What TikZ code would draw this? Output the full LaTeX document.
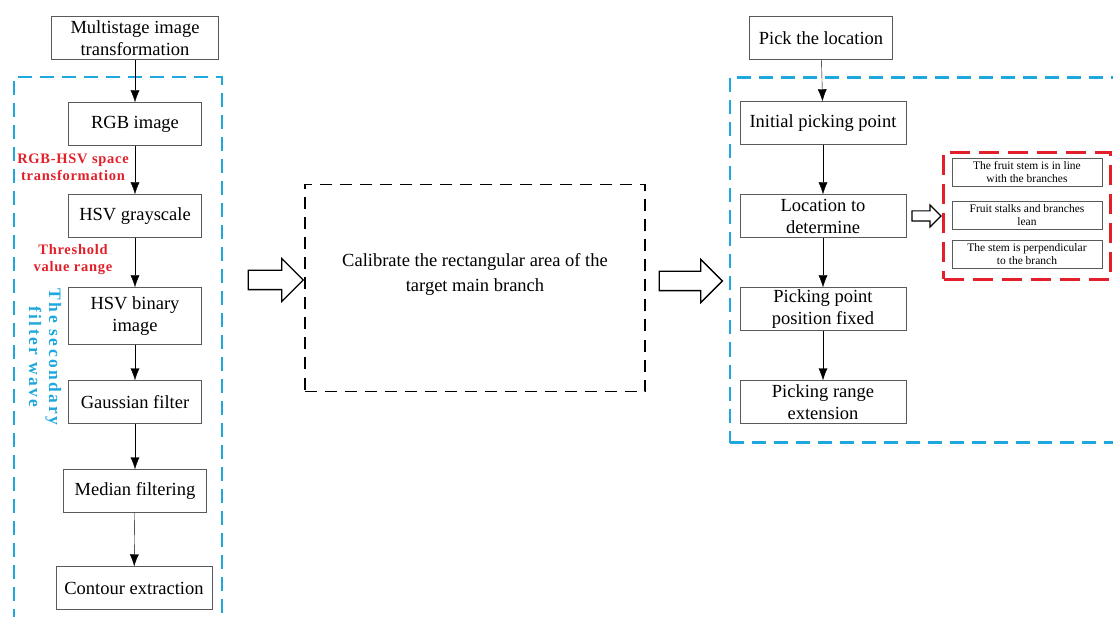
\documentclass[tikz,border=0pt]{standalone}
\usepackage{fontspec}
\setmainfont{Liberation Serif}
\usetikzlibrary{positioning,shapes.arrows,arrows.meta}
\definecolor{frameBlue}{HTML}{1FA8DE}
\definecolor{frameRed}{HTML}{E3202A}

\begin{document}
\begin{tikzpicture}[x=1pt, y=-1pt, >={Latex[length=12pt,width=9pt]},
                    every node/.style={align=center},
                    procbox/.style={draw=black!65, fill=white, inner sep=1pt,
                                    minimum height=43pt, font=\fontsize{18.5}{22}\selectfont},
                    smallbox/.style={draw=black!65, fill=white, inner sep=0pt,
                                     minimum width=150pt, minimum height=28pt,
                                     font=\fontsize{11.5}{12.5}\selectfont},
                    redlabel/.style={text=frameRed, font=\bfseries\fontsize{14.5}{17}\selectfont\addfontfeature{LetterSpace=5}},
                    blueframe/.style={draw=frameBlue, line width=2.2pt, dash pattern=on 14pt off 8pt},
                    redframe/.style={draw=frameRed, line width=2.6pt, dash pattern=on 20pt off 9pt},
                    hollow/.style={single arrow, draw=black, line width=1.3pt, fill=white,
                                   inner xsep=0pt, inner ysep=9pt,
                                   single arrow head extend=12pt}]
  \useasboundingbox (0,0) rectangle (1113,617);
  % left column
  \node[blueframe, minimum width=208pt, minimum height=570pt] (leftframe) at (118,362) {};
  \node[procbox, minimum width=167pt] (multi) at (135,38) {Multistage image\\transformation};
  \node[procbox, minimum width=133pt] (rgb) at (135,124) {RGB image};
  \node[procbox, minimum width=133pt] (hsvg) at (135,216) {HSV grayscale};
  \node[procbox, minimum width=133pt, minimum height=57pt] (hsvb) at (135,316) {HSV binary\\image};
  \node[procbox, minimum width=133pt] (gauss) at (135,402) {Gaussian filter};
  \node[procbox, minimum width=143pt] (median) at (135,491) {Median filtering};
  \node[procbox, minimum width=156pt] (contour) at (134,588) {Contour extraction};
  \node[redlabel] (rgbhsv) at (73,167) {RGB-HSV space\\transformation};
  \node[redlabel] (thresh) at (73,260) {Threshold\\value range};
  \node[text=frameBlue, font=\bfseries\fontsize{17.5}{20}\selectfont\addfontfeature{LetterSpace=14},
        rotate=-90] (secondary) at (45,357) {The secondary\\filter wave};
  \draw[->] (multi) -- (rgb);
  \draw[->] (rgb) -- (hsvg);
  \draw[->] (hsvg) -- (hsvb);
  \draw[->] (hsvb) -- (gauss);
  \draw[->] (gauss) -- (median);
  \draw[->] (median) -- (contour);
  % middle
  \node[draw=black, line width=1.4pt, dash pattern=on 12pt off 8pt, minimum width=340pt,
        minimum height=207pt, font=\fontsize{18.5}{25}\selectfont] (calib) at (475,288)
        {Calibrate the rectangular area of the\\target main branch\\[6pt]};
  \node[hollow, minimum height=55pt] (arrowA) at (271,280) {};
  \node[hollow, minimum height=63pt] (arrowB) at (686,281) {};
  % right column
  \node[blueframe, minimum width=400pt, minimum height=365pt] (rightframe) at (930,260) {};
  \node[procbox, minimum width=143pt] (pick) at (821,38) {Pick the location};
  \node[procbox, minimum width=166pt] (initial) at (823,123) {Initial picking point};
  \node[procbox, minimum width=166pt] (locate) at (823,216) {Location to\\determine};
  \node[procbox, minimum width=166pt] (fixed) at (823,309) {Picking point\\position fixed};
  \node[procbox, minimum width=166pt] (extend) at (823,402) {Picking range\\extension};
  \draw[->] (pick) -- (initial);
  \draw[->] (initial) -- (locate);
  \draw[->] (locate) -- (fixed);
  \draw[->] (fixed) -- (extend);
  \node[hollow, line width=1.2pt, minimum height=29pt, inner ysep=4.5pt,
        single arrow head extend=6pt] (arrowC) at (924,216) {};
  \node[redframe, minimum width=167pt, minimum height=127pt] (redbox) at (1027,216) {};
  \node[smallbox] (inline) at (1027,172) {The fruit stem is in line\\with the branches};
  \node[smallbox] (lean) at (1027,215) {Fruit stalks and branches\\lean};
  \node[smallbox] (perp) at (1027,254) {The stem is perpendicular\\to the branch};
\end{tikzpicture}
\end{document}
